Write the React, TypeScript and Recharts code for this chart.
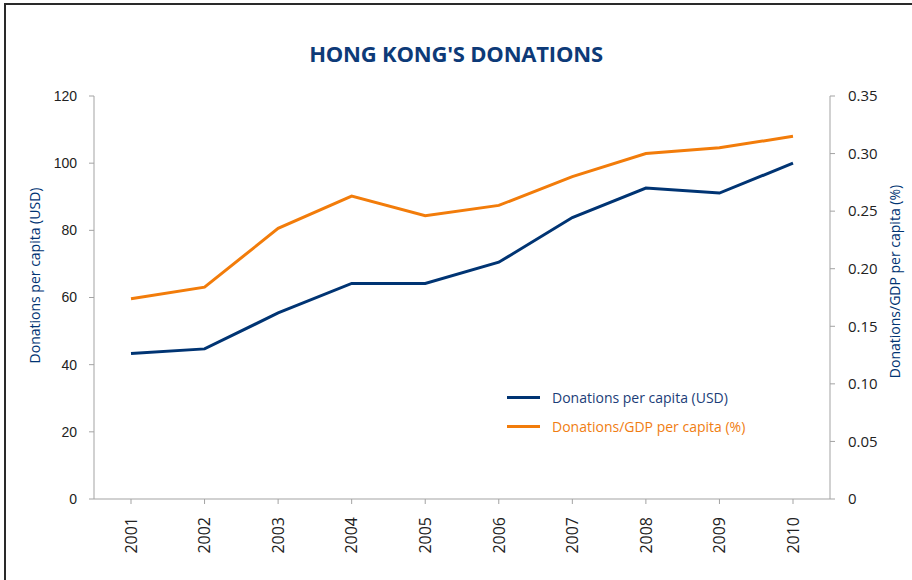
import React from "react";
import { LineChart, Line, XAxis, YAxis } from "recharts";

const years = ["2001", "2002", "2003", "2004", "2005", "2006", "2007", "2008", "2009", "2010"];
const donationsPerCapita = [43.3, 44.7, 55.4, 64.2, 64.2, 70.5, 83.8, 92.6, 91.1, 100.0];
const donationsGdpRatio = [0.174, 0.184, 0.235, 0.263, 0.246, 0.255, 0.28, 0.3, 0.305, 0.315];
const leftTicks = [0, 20, 40, 60, 80, 100, 120];
const rightTicks = [0, 0.05, 0.1, 0.15, 0.2, 0.25, 0.3, 0.35];

const NAVY = "#003473";
const ORANGE = "#f27c0a";
const AXIS = "#a3a3a3";
const FONT = "'Open Sans', sans-serif";

const data = years.map((y, i) => ({
  year: y,
  usd: donationsPerCapita[i],
  ratio: donationsGdpRatio[i],
}));

const YearTick = (props: any) => {
  const { x, y, payload } = props;
  return (
    <g transform={`translate(${x},${y})`}>
      <text
        transform="rotate(-90)"
        textAnchor="end"
        dy="0.36em"
        fontSize={16}
        fontFamily={FONT}
        fill="#222"
      >
        {payload.value}
      </text>
    </g>
  );
};

const LeftLabel = (props: any) => {
  const vb = props.viewBox;
  const cx = vb.x;
  const cy = vb.y + vb.height / 2 - 22;
  return (
    <text
      x={cx}
      y={cy}
      transform={`rotate(-90, ${cx}, ${cy})`}
      textAnchor="middle"
      dominantBaseline="central"
      fontSize={14}
      fontFamily={FONT}
      fill={NAVY}
    >
      Donations per capita (USD)
    </text>
  );
};

const RightLabel = (props: any) => {
  const vb = props.viewBox;
  const cx = vb.x + 64;
  const cy = vb.y + vb.height / 2 - 16;
  return (
    <text
      x={cx}
      y={cy}
      transform={`rotate(-90, ${cx}, ${cy})`}
      textAnchor="middle"
      dominantBaseline="central"
      fontSize={14}
      fontFamily={FONT}
      fill={NAVY}
    >
      Donations/GDP per capita (%)
    </text>
  );
};

const legendItems = [
  { label: "Donations per capita (USD)", color: NAVY, text: "#1b3d78" },
  { label: "Donations/GDP per capita (%)", color: ORANGE, text: "#f07d12" },
];

export default function App() {
  return (
    <div
      style={{
        position: "absolute",
        left: 0,
        top: 0,
        width: 912,
        height: 580,
        background: "#fff",
        fontFamily: FONT,
      }}
    >
      <div
        style={{
          position: "absolute",
          left: 4,
          top: 3,
          width: 920,
          height: 600,
          borderLeft: "2px solid #2a2a2a",
          borderTop: "2px solid #2a2a2a",
        }}
      />
      <div
        style={{
          position: "absolute",
          left: 0,
          top: 38,
          width: 912,
          textAlign: "center",
          fontFamily: FONT,
          fontWeight: 700,
          fontSize: 22,
          color: "#0d3a78",
          letterSpacing: -0.2,
        }}
      >
        HONG KONG'S DONATIONS
      </div>
      <div style={{ position: "absolute", left: 0, top: 0 }}>
        <LineChart
          width={912}
          height={580}
          data={data}
          margin={{ top: 96, right: 22, bottom: 21, left: 34 }}
        >
          <XAxis
            dataKey="year"
            padding={{ left: 37, right: 37 }}
            stroke={AXIS}
            tickLine={{ stroke: AXIS }}
            tickSize={5}
            tickMargin={13}
            height={60}
            tick={<YearTick />}
            interval={0}
          />
          <YAxis
            yAxisId="left"
            domain={[0, 120]}
            ticks={leftTicks}
            width={60}
            stroke={AXIS}
            tickLine={{ stroke: AXIS }}
            tickSize={5}
            tickMargin={12}
            tick={{ fontSize: 14, fontFamily: "'Liberation Sans', sans-serif", fill: "#222" }}
            label={<LeftLabel />}
          />
          <YAxis
            yAxisId="right"
            orientation="right"
            domain={[0, 0.35]}
            ticks={rightTicks}
            width={60}
            stroke={AXIS}
            tickLine={{ stroke: AXIS }}
            tickSize={5}
            tickMargin={13}
            tickFormatter={(v: number) => (v === 0 ? "0" : v.toFixed(2))}
            tick={{ fontSize: 15, fontFamily: FONT, fill: "#222" }}
            label={<RightLabel />}
          />
          <Line
            yAxisId="left"
            dataKey="usd"
            stroke={NAVY}
            strokeWidth={3}
            dot={false}
            isAnimationActive={false}
          />
          <Line
            yAxisId="right"
            dataKey="ratio"
            stroke={ORANGE}
            strokeWidth={3}
            dot={false}
            isAnimationActive={false}
          />
        </LineChart>
      </div>
      <div
        style={{
          position: "absolute",
          left: 507,
          top: 383,
          fontFamily: FONT,
          fontSize: 14,
        }}
      >
        {legendItems.map((it) => (
          <div key={it.label} style={{ display: "flex", alignItems: "center", height: 29 }}>
            <div style={{ width: 33, height: 3, background: it.color, marginRight: 12 }} />
            <span style={{ color: it.text }}>{it.label}</span>
          </div>
        ))}
      </div>
    </div>
  );
}
